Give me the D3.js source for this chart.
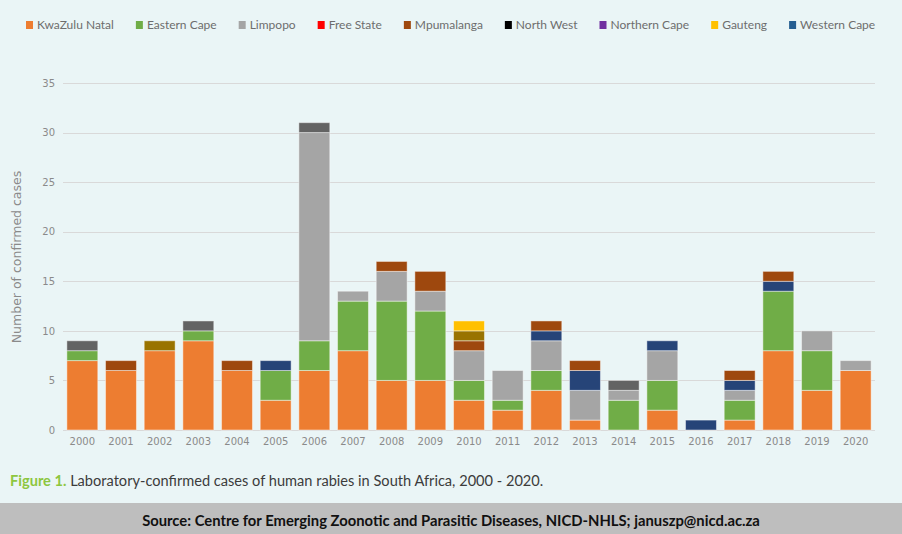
<!DOCTYPE html>
<html>
<head>
<meta charset="utf-8">
<script src="https://cdn.jsdelivr.net/npm/d3@7"></script>
<style>
  body { margin: 0; background: #eaf5f6; }
  svg { display: block; }
</style>
</head>
<body>
<svg id="chart" width="902" height="534"></svg>
<script>
// ---- data ----
var years = ['2000', '2001', '2002', '2003', '2004', '2005', '2006', '2007', '2008', '2009', '2010',
  '2011', '2012', '2013', '2014', '2015', '2016', '2017', '2018', '2019', '2020'];

var kwazuluNatal = [7, 6, 8, 9, 6, 3, 6, 8, 5, 5, 3, 2, 4, 1, 0, 2, 0, 1, 8, 4, 6];
var easternCape  = [1, 0, 0, 1, 0, 3, 3, 5, 8, 7, 2, 1, 2, 0, 3, 3, 0, 2, 6, 4, 0];
var limpopo      = [0, 0, 0, 0, 0, 0, 21, 1, 3, 2, 3, 3, 3, 3, 1, 3, 0, 1, 0, 2, 1];
var westernCape  = [0, 0, 0, 0, 0, 1, 0, 0, 0, 0, 0, 0, 1, 2, 0, 1, 1, 1, 1, 0, 0];
var mpumalanga   = [0, 1, 0, 0, 1, 0, 0, 0, 1, 2, 1, 0, 1, 1, 0, 0, 0, 1, 1, 0, 0];
var northernCape = [0, 0, 1, 0, 0, 0, 0, 0, 0, 0, 1, 0, 0, 0, 0, 0, 0, 0, 0, 0, 0];
var gauteng      = [0, 0, 0, 0, 0, 0, 0, 0, 0, 0, 1, 0, 0, 0, 0, 0, 0, 0, 0, 0, 0];
var northWest    = [1, 0, 0, 1, 0, 0, 1, 0, 0, 0, 0, 0, 0, 0, 1, 0, 0, 0, 0, 0, 0];

// stacking order as drawn, bottom to top
var seriesNames  = ['KwaZulu Natal', 'Eastern Cape', 'Limpopo', 'Western Cape', 'Mpumalanga', 'Northern Cape', 'Gauteng', 'North West'];
var seriesValues = [kwazuluNatal, easternCape, limpopo, westernCape, mpumalanga, northernCape, gauteng, northWest];
var seriesColors = ['#ed7d31', '#70ad47', '#a5a5a5', '#264478', '#9e480e', '#997300', '#ffc000', '#636363'];

// legend as printed above the chart
var legendNames  = ['KwaZulu Natal', 'Eastern Cape', 'Limpopo', 'Free State', 'Mpumalanga', 'North West', 'Northern Cape', 'Gauteng', 'Western Cape'];
var legendColors = ['#ed7d31', '#70ad47', '#a5a5a5', '#ff0000', '#9e480e', '#000000', '#7030a0', '#ffc000', '#255e91'];

var yTicks = [0, 5, 10, 15, 20, 25, 30, 35];

// ---- chart ----
var svg = d3.select('#chart');
var W = 902, H = 534;
var margin = { left: 63, right: 27, top: 83, bottom: 104 };

svg.append('rect').attr('width', W).attr('height', H).attr('fill', '#eaf5f6');

var table = years.map(function (yr, i) {
  var row = { year: yr };
  seriesNames.forEach(function (n, k) { row[n] = seriesValues[k][i]; });
  return row;
});
var stacked = d3.stack().keys(seriesNames)(table);

var x = d3.scaleBand().domain(years)
  .range([margin.left, W - margin.right])
  .paddingInner(0.2).paddingOuter(0.1);
var y = d3.scaleLinear().domain([0, 35]).range([H - margin.bottom, margin.top]);

// gridlines
svg.append('g')
  .selectAll('line').data(yTicks).join('line')
  .attr('x1', margin.left).attr('x2', W - margin.right)
  .attr('y1', function (d) { return Math.round(y(d)) + 0.5; })
  .attr('y2', function (d) { return Math.round(y(d)) + 0.5; })
  .attr('stroke', '#d9d9d9').attr('stroke-width', 1);

// y tick labels
var yAxis = svg.append('g')
  .attr('transform', 'translate(' + (margin.left - 8) + ',0)')
  .call(d3.axisLeft(y).tickValues(yTicks).tickSize(0).tickPadding(0));
yAxis.select('.domain').remove();
yAxis.selectAll('text')
  .attr('font-family', 'DejaVu Sans').attr('font-size', 10).attr('fill', '#8a8a8a');

// bars
svg.append('g')
  .selectAll('g').data(stacked).join('g')
  .attr('fill', function (d, i) { return seriesColors[i]; })
  .selectAll('rect').data(function (d) { return d.filter(function (s) { return s[1] > s[0]; }); })
  .join('rect')
  .attr('x', function (d) { return x(d.data.year); })
  .attr('width', x.bandwidth())
  .attr('y', function (d) { return y(d[1]); })
  .attr('height', function (d) { return y(d[0]) - y(d[1]); })
  .attr('stroke', 'rgba(255,255,255,0.45)').attr('stroke-width', 1);

// x tick labels
var xAxis = svg.append('g')
  .attr('transform', 'translate(0,' + (H - margin.bottom) + ')')
  .call(d3.axisBottom(x).tickSize(0).tickPadding(8));
xAxis.select('.domain').remove();
xAxis.selectAll('text')
  .attr('font-family', 'DejaVu Sans').attr('font-size', 10).attr('fill', '#8a8a8a');

// y axis title
svg.append('text')
  .attr('transform', 'translate(21,' + 257 + ') rotate(-90)')
  .attr('text-anchor', 'middle')
  .attr('font-family', 'DejaVu Sans').attr('font-size', 12.5).attr('fill', '#8a8a8a')
  .text('Number of confirmed cases');

// legend
var legend = svg.append('g').attr('transform', 'translate(26,25)');
var lx = 0;
legendNames.forEach(function (name, i) {
  var item = legend.append('g').attr('transform', 'translate(' + lx + ',0)');
  item.append('rect').attr('x', 0).attr('y', -4).attr('width', 7).attr('height', 8)
    .attr('fill', legendColors[i]);
  var t = item.append('text').attr('x', 11).attr('dy', '0.35em')
    .attr('font-family', 'Lato').attr('font-size', 12).attr('fill', '#6d6d6d')
    .text(name);
  lx += 11 + t.node().getComputedTextLength() + 22;
});

// caption
var cap = svg.append('text').attr('x', 10).attr('y', 486)
  .attr('font-family', 'Lato').attr('font-size', 14.6).attr('fill', '#3c3c3c');
cap.append('tspan').attr('font-weight', 'bold').attr('fill', '#8dc63f').text('Figure 1.');
cap.append('tspan').text(' Laboratory-confirmed cases of human rabies in South Africa, 2000 - 2020.');

// source banner
svg.append('rect').attr('x', 0).attr('y', 503).attr('width', W).attr('height', H - 503)
  .attr('fill', '#bebebe');
svg.append('text').attr('x', W / 2).attr('y', 521).attr('dy', '0.35em')
  .attr('text-anchor', 'middle')
  .attr('font-family', 'Lato').attr('font-weight', 'bold').attr('font-size', 14.8).attr('fill', '#111')
  .text('Source: Centre for Emerging Zoonotic and Parasitic Diseases, NICD-NHLS; januszp@nicd.ac.za');
</script>
</body>
</html>
